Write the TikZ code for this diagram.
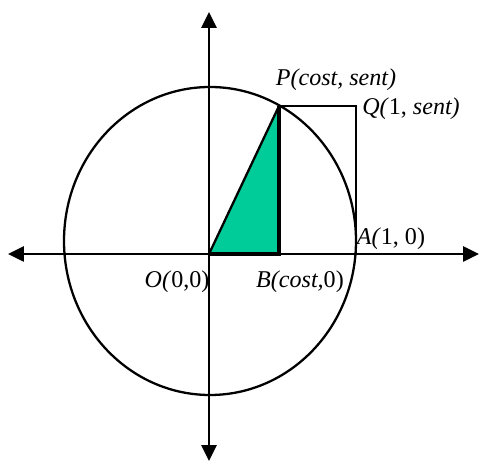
\documentclass[tikz,border=0pt]{standalone}
\usepackage{fontspec}
\setmainfont{Liberation Serif}
\usepackage{xcolor}
\usetikzlibrary{arrows.meta}

\definecolor{sectorgreen}{RGB}{0,204,153}

\begin{document}
\begin{tikzpicture}[x=0.02cm, y=0.02cm,
    axis/.style={line width=1.3pt, {Triangle[length=9pt, width=8.5pt]}-{Triangle[length=9pt, width=8.5pt]}},
    curve/.style={line width=1.3pt},
    heavy/.style={line width=2pt},
    lbl/.style={font=\fontsize{13.7}{15}\selectfont, inner sep=0pt}]
  \useasboundingbox (0, 0) rectangle (480, 462);
  % points of the unit circle
  \coordinate (O) at (209, 208);
  \coordinate (P) at (279, 356);
  \coordinate (Q) at (356, 356);
  \coordinate (A) at (356, 208);
  \coordinate (B) at (279, 208);
  \coordinate (xl) at (8, 208);
  \coordinate (xr) at (479, 208);
  \coordinate (yt) at (209, 450);
  \coordinate (yb) at (209, 1);
  % triangle OPB
  \fill[sectorgreen] (O) -- (P) -- (B) -- cycle;
  \draw[curve] (210, 221) ellipse (146 and 154);
  \draw[axis] (xl) -- (xr);
  \draw[axis] (yb) -- (yt);
  \draw[curve] (O) -- (P);
  \draw[curve] (P) -- (Q) -- (A);
  \draw[heavy] (P) -- (B) -- (O);
  \node[lbl] (Plbl) at (336, 382) {\textit{P(cost, sent)}};
  \node[lbl] (Qlbl) at (411, 353) {\textit{Q(}1, \textit{sent)}};
  \node[lbl] (Albl) at (391, 223) {\textit{A(}1, 0)};
  \node[lbl] (Olbl) at (177, 180) {\textit{O(}0,0)};
  \node[lbl] (Blbl) at (300, 180) {\textit{B(cost,}0)};
\end{tikzpicture}
\end{document}
